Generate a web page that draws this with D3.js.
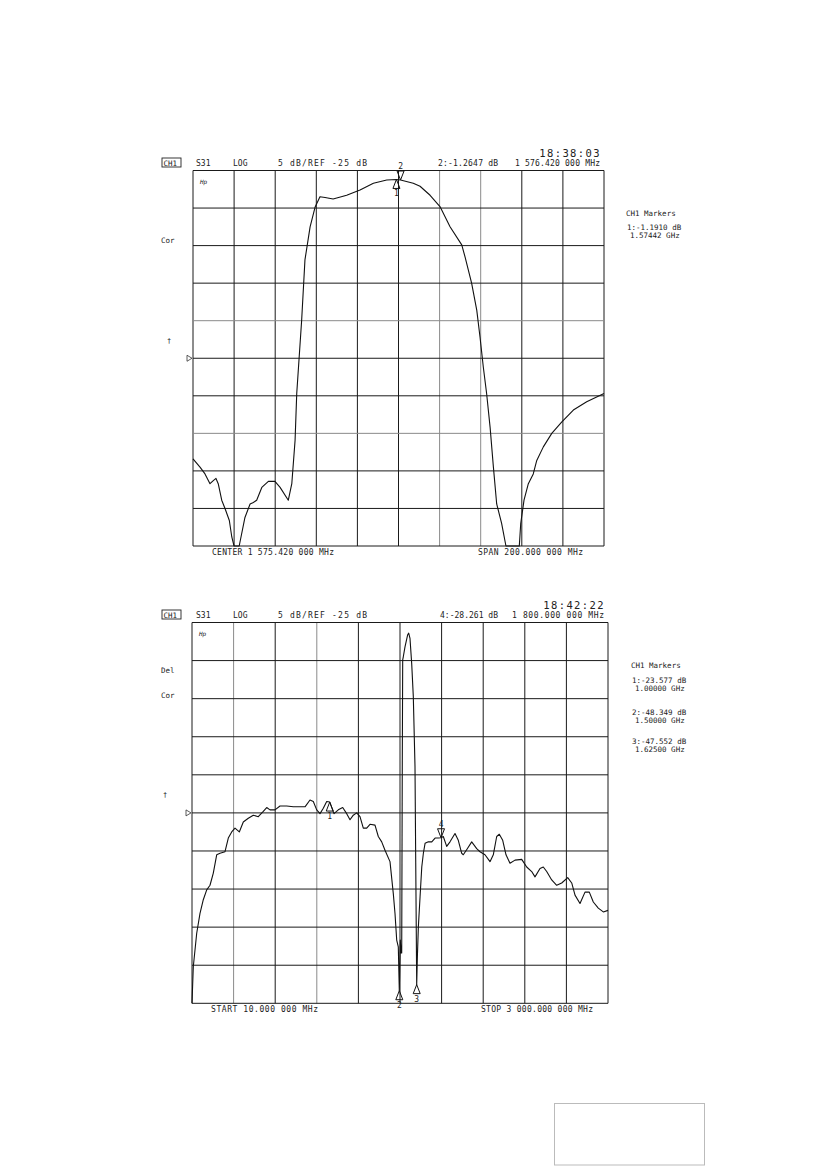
<!DOCTYPE html>
<html>
<head>
<meta charset="utf-8">
<script src="https://cdn.jsdelivr.net/npm/d3@7"></script>
<style>
  html, body { margin: 0; padding: 0; background: #fff; }
  svg text { font-family: "DejaVu Sans Mono", monospace; fill: #222; }
</style>
</head>
<body>
<div id="chart"></div>
<script>
// ---- top sweep: center 1575.42 MHz, span 200 MHz ----
const topFreq = [1475.42, 1478.83, 1481.26, 1483.69, 1485.3, 1486.6, 1487.7, 1489.4, 1491.0, 1493.1,
  1494.3, 1495.4, 1497.9, 1500.7, 1503.2, 1504.8, 1506.4, 1508.9, 1512.1, 1515.3,
  1517.8, 1521.8, 1523.5, 1525.1, 1525.9, 1528.3, 1529.9, 1532.4, 1534.8, 1537.2,
  1539.7, 1543.6, 1550.2, 1556.7, 1563.2, 1569.7, 1574.42, 1576.42, 1582.6, 1585.9,
  1590.8, 1595.6, 1600.5, 1606.2, 1607.8, 1611.0, 1613.5, 1615.1, 1616.7, 1618.3,
  1620.0, 1621.6, 1623.2, 1625.6, 1627.7, 1634.2, 1634.9, 1636.5, 1638.6, 1641.0,
  1642.7, 1645.9, 1650.0, 1654.8, 1660.5, 1667.0, 1675.42];
const topDb = [-38.4, -39.5, -40.4, -41.7, -41.3, -41.0, -41.7, -43.9, -45.0, -46.6,
  -48.8, -51, -51, -46.2, -44.4, -44.2, -43.9, -42.2, -41.4, -41.4,
  -42.2, -43.9, -41.7, -35.9, -29.7, -19.9, -11.9, -7.5, -4.9, -3.5,
  -3.6, -3.8, -3.3, -2.6, -1.7, -1.27, -1.19, -1.26, -1.7, -2.1,
  -3.3, -4.8, -7.5, -9.9, -11.5, -15.0, -18.6, -22.2, -26.2, -29.7,
  -34.2, -39.5, -44.4, -47.0, -51, -51, -47.0, -43.9, -41.7, -40.4,
  -38.6, -36.8, -35.0, -33.5, -31.9, -30.8, -29.7];
const topMarkerIds = ["1", "2"];
const topMarkerFreq = [1574.42, 1576.42];
const topMarkerDb = [-1.191, -1.2647];
const topActive = "2";

// ---- bottom sweep: 10 MHz .. 3000 MHz ----
const botFreq = [10, 19.3, 43.8, 67.5, 91.2, 115.7, 139.4, 163.1, 187.5, 211.3,
  247.2, 270.9, 295.3, 319.1, 350, 378.7, 414.7, 450.6, 486.5, 522.5,
  546.9, 570.6, 606.6, 642.5, 690.7, 738.1, 786.3, 822.2, 858.1, 881.9,
  906.3, 930, 953.7, 978.1, 1000, 1030.6, 1061.5, 1093.2, 1121.9, 1145.6,
  1169.3, 1193.8, 1217.5, 1241.2, 1265.6, 1289.4, 1325.3, 1349, 1373.5, 1397.2,
  1433.1, 1456.9, 1469.1, 1481.3, 1492.8, 1500, 1507.2, 1512.2, 1517.2, 1521.5,
  1524.4, 1528.7, 1540.9, 1560.3, 1567.5, 1576.9, 1589.1, 1600.6, 1612.8, 1617.9,
  1625, 1629.9, 1637.1, 1649.2, 1661.5, 1673, 1685.2, 1708.9, 1733.3, 1757.1,
  1780.8, 1800, 1816.2, 1840.6, 1864.4, 1900.3, 1924, 1948.5, 1960, 1988.7,
  2020.3, 2056.3, 2080, 2115.9, 2151.9, 2175.6, 2200, 2218.7, 2243.2, 2266.9,
  2295.6, 2331.6, 2379.7, 2415.7, 2451.6, 2475.3, 2511.3, 2535, 2559.4, 2595.4,
  2631.3, 2667.2, 2710.4, 2739.2, 2762.9, 2798.8, 2834.7, 2865.6, 2894.4, 2930.3,
  2966.3, 3000];
const botDb = [-51, -45.2, -40.8, -38.2, -36.4, -35.1, -34.5, -32.9, -30.5, -30.3,
  -30.1, -28.3, -27.5, -27.0, -27.5, -26.2, -25.7, -25.3, -25.5, -24.8,
  -24.3, -24.6, -24.6, -24.1, -24.1, -24.2, -24.2, -24.2, -23.3, -23.5,
  -24.6, -25.1, -24.4, -23.5, -23.58, -25.1, -24.6, -24.3, -25.1, -25.9,
  -25.3, -25.0, -25.5, -27.0, -27.0, -26.5, -26.6, -28.1, -28.8, -29.9,
  -31.4, -35.6, -38.2, -41.7, -42.6, -48.35, -41.7, -43.4, -43.4, -18.1,
  -4.9, -4.5, -3.2, -1.6, -1.4, -2.1, -5.4, -9.7, -18.9, -31.2,
  -47.55, -43.9, -39.9, -36.0, -32.1, -30.3, -29.0, -28.8, -28.8, -28.3,
  -28.3, -28.26, -28.1, -29.4, -28.8, -27.7, -28.6, -30.3, -30.5, -29.7,
  -28.8, -29.7, -30.1, -30.5, -31.4, -30.5, -28.1, -27.8, -28.6, -30.5,
  -31.6, -31.2, -31.1, -32.1, -32.7, -33.4, -32.3, -32.1, -32.7, -33.8,
  -34.5, -34.2, -33.5, -34.2, -35.8, -36.9, -35.4, -35.4, -36.7, -37.5,
  -38.0, -37.8];
const botMarkerIds = ["1", "2", "3", "4"];
const botMarkerFreq = [1000, 1500, 1625, 1800];
const botMarkerDb = [-23.577, -48.349, -47.552, -28.261];
const botActive = "4";

// header / footer / side texts
const topTexts = {
  time: "18:38:03", param: "S31", format: "LOG", scale: "5 dB/REF -25 dB",
  readout: "2:-1.2647 dB", readFreq: "1 576.420 000 MHz",
  left: "CENTER 1 575.420 000 MHz", right: "SPAN  200.000 000 MHz",
  side: ["Cor"], list: [["1:-1.1910 dB", "1.57442 GHz"]]
};
const botTexts = {
  time: "18:42:22", param: "S31", format: "LOG", scale: "5 dB/REF -25 dB",
  readout: "4:-28.261 dB", readFreq: "1 800.000 000 MHz",
  left: "START  10.000 000 MHz", right: "STOP 3 000.000 000 MHz",
  side: ["Del", "Cor"],
  list: [["1:-23.577 dB", "1.00000 GHz"], ["2:-48.349 dB", "1.50000 GHz"], ["3:-47.552 dB", "1.62500 GHz"]]
};

const W = 826, H = 1169;
const svg = d3.select("#chart").append("svg")
  .attr("width", W).attr("height", H);

function drawPanel(p) {
  const x = d3.scaleLinear().domain(p.xDomain).range([p.left, p.right]);
  const y = d3.scaleLinear().domain([-50, 0]).range([p.bottom, p.top]).clamp(true);
  const g = svg.append("g");
  const t = p.texts;

  // graticule, 10 x 10
  const dx = (p.xDomain[1] - p.xDomain[0]) / 10;
  d3.range(11).forEach(i => {
    const xv = p.xDomain[0] + i * dx;
    g.append("line")
      .attr("x1", x(xv)).attr("x2", x(xv))
      .attr("y1", p.top).attr("y2", p.bottom)
      .attr("stroke", p.grayX.includes(i) ? "#8a8a8a" : "#1a1a1a")
      .attr("stroke-width", 1);
  });
  d3.range(11).forEach(i => {
    const yv = -50 + i * 5;
    g.append("line")
      .attr("x1", p.left).attr("x2", p.right)
      .attr("y1", y(yv)).attr("y2", y(yv))
      .attr("stroke", p.grayY.includes(i) ? "#8a8a8a" : "#1a1a1a")
      .attr("stroke-width", 1);
  });

  // trace
  const pts = p.freq.map((f, i) => [f, p.db[i]]);
  g.append("path")
    .datum(pts)
    .attr("fill", "none")
    .attr("stroke", "#111")
    .attr("stroke-width", 1.1)
    .attr("stroke-linejoin", "round")
    .attr("d", d3.line().x(d => x(d[0])).y(d => y(d[1])));

  // markers
  p.mIds.forEach((id, i) => {
    const mx = x(p.mFreq[i]), my = y(p.mDb[i]);
    const up = id === p.active;
    const s = up ? -1 : 1;
    g.append("path")
      .attr("d", `M${mx},${my} L${mx - 3.5},${my + s * 9} L${mx + 3.5},${my + s * 9} Z`)
      .attr("fill", "none").attr("stroke", "#111").attr("stroke-width", 1);
    g.append("text").attr("x", mx).attr("y", up ? my - 11 : my + 17)
      .attr("text-anchor", "middle").style("font-size", "8px")
      .style("fill", "#222").text(id);
  });

  // header
  const hy = p.top - 5;
  g.append("text").attr("x", p.right - 3).attr("y", p.top - 14)
    .attr("text-anchor", "end").style("font-size", "10.5px")
    .style("letter-spacing", "1.4px").text(t.time);
  g.append("rect").attr("x", 162).attr("y", hy - 7.5).attr("width", 19).attr("height", 9)
    .attr("fill", "none").attr("stroke", "#222").attr("stroke-width", 0.9);
  g.append("text").attr("x", 163.5).attr("y", hy).style("font-size", "7.5px").text("CH1");
  g.append("text").attr("x", 196).attr("y", hy).style("font-size", "8px").text(t.param);
  g.append("text").attr("x", 233).attr("y", hy).style("font-size", "8px").text(t.format);
  g.append("text").attr("x", 278).attr("y", hy).style("font-size", "8px")
    .attr("textLength", 89).text(t.scale);
  g.append("text").attr("x", p.readX).attr("y", hy).style("font-size", "8px")
    .attr("textLength", p.readW).text(t.readout);
  g.append("text").attr("x", p.freqX).attr("y", hy).style("font-size", "8px")
    .attr("textLength", p.right - 4 - p.freqX).text(t.readFreq);

  // left annotations
  g.append("text").attr("x", p.left + 7).attr("y", p.top + 13)
    .style("font-size", "6px").style("font-style", "italic").text("Hp");
  t.side.forEach((s, i) => {
    g.append("text").attr("x", 161).attr("y", p.sideY[i]).style("font-size", "7.5px").text(s);
  });
  g.append("text").attr("x", p.arrowX).attr("y", p.arrowY).style("font-size", "7px").text("†");
  const ry = y(-25);
  g.append("path")
    .attr("d", `M${p.left - 6},${ry - 3} L${p.left - 1},${ry} L${p.left - 6},${ry + 3} Z`)
    .attr("fill", "none").attr("stroke", "#333").attr("stroke-width", 0.8);

  // footer
  g.append("text").attr("x", p.footL[0]).attr("y", p.bottom + 9).style("font-size", "8px")
    .attr("textLength", p.footL[1]).text(t.left);
  g.append("text").attr("x", p.footR[0]).attr("y", p.bottom + 9).style("font-size", "8px")
    .attr("textLength", p.footR[1]).text(t.right);

  // marker list at right
  g.append("text").attr("x", p.listX).attr("y", p.listY[0]).style("font-size", "7.5px").text("CH1 Markers");
  t.list.forEach((row, i) => {
    g.append("text").attr("x", p.listX + 1).attr("y", p.listY[i + 1]).style("font-size", "7.5px").text(row[0]);
    g.append("text").attr("x", p.listX + 4).attr("y", p.listY[i + 1] + 7.5).style("font-size", "7.5px").text(row[1]);
  });
}

drawPanel({
  xDomain: [1475.42, 1675.42], left: 193, right: 604, top: 170.5, bottom: 546,
  freq: topFreq, db: topDb, mIds: topMarkerIds, mFreq: topMarkerFreq, mDb: topMarkerDb,
  active: topActive, texts: topTexts, grayX: [6, 7], grayY: [3, 6],
  readX: 438, readW: 60, freqX: 515,
  sideY: [243], arrowX: 167, arrowY: 343,
  footL: [212, 122], footR: [478, 105],
  listX: 626, listY: [216, 230]
});

drawPanel({
  xDomain: [10, 3000], left: 192, right: 608, top: 622.5, bottom: 1003.3,
  freq: botFreq, db: botDb, mIds: botMarkerIds, mFreq: botMarkerFreq, mDb: botMarkerDb,
  active: botActive, texts: botTexts, grayX: [1, 3], grayY: [],
  readX: 440, readW: 58, freqX: 512,
  sideY: [673, 698], arrowX: 163, arrowY: 797,
  footL: [211, 107], footR: [481, 112],
  listX: 631, listY: [668, 683, 715, 744]
});

// empty stamp box lower right
svg.append("rect")
  .attr("x", 554.5).attr("y", 1103.5).attr("width", 150).attr("height", 61.5)
  .attr("fill", "none").attr("stroke", "#bbb").attr("stroke-width", 1);
</script>
</body>
</html>
